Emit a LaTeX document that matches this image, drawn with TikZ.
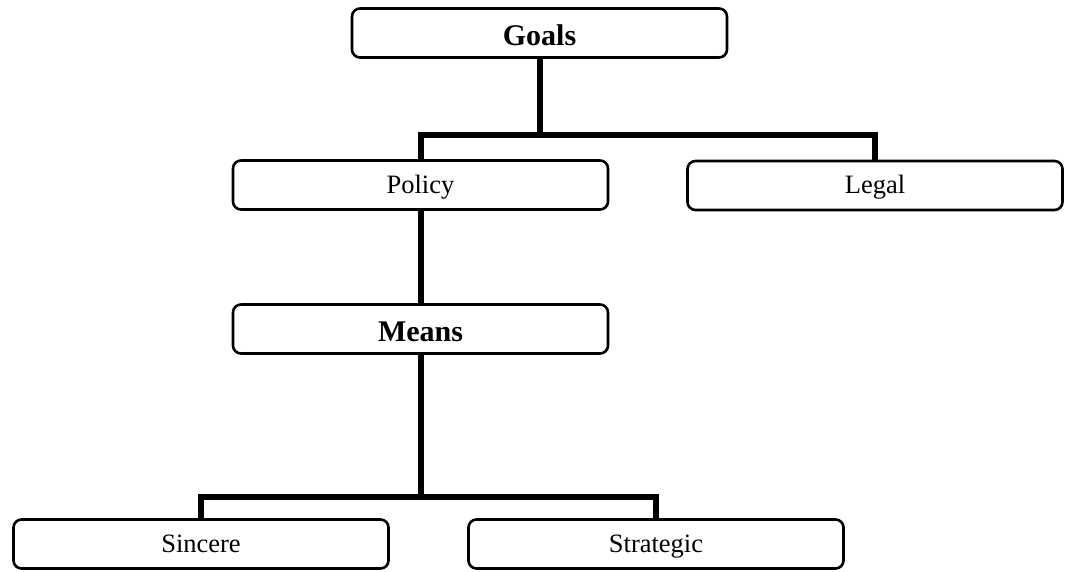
\documentclass[tikz,border=0pt]{standalone}
\usepackage{fontspec}
\setmainfont{Liberation Serif}
\begin{document}
\begin{tikzpicture}[x=1pt,y=-1pt,
  box/.style={draw=black, line width=2.6pt, rounded corners=8pt, fill=white,
    minimum width=375pt, minimum height=49pt, inner sep=0pt,
    text height=20pt, text depth=4pt, font=\fontsize{26.5}{30}\selectfont},
  boldbox/.style={box, text height=28pt, text depth=3pt, font=\fontsize{30}{34}\selectfont\bfseries},
  conn/.style={draw=black, line width=6pt, line join=miter}]
\useasboundingbox[fill=white] (0,0) rectangle (1066,571);
\node[boldbox] (goals) at (539.5,33) {Goals};
\node[box] (policy) at (420.5,185) {Policy};
\node[box] (legal) at (875,185.5) {Legal};
\node[boldbox] (means) at (420.5,329) {Means};
\node[box] (sincere) at (201,544) {Sincere};
\node[box] (strategic) at (656,544) {Strategic};
\coordinate (j1) at (540,135);
\coordinate (j2) at (421,497);
\draw[conn] (goals.south) -- (goals.south |- j1);
\draw[conn] (policy.north) |- (legal.north |- j1) -- (legal.north);
\draw[conn] (policy.south) -- (means.north);
\draw[conn] (means.south) -- (means.south |- j2);
\draw[conn] (sincere.north) |- (strategic.north |- j2) -- (strategic.north);
\end{tikzpicture}
\end{document}
